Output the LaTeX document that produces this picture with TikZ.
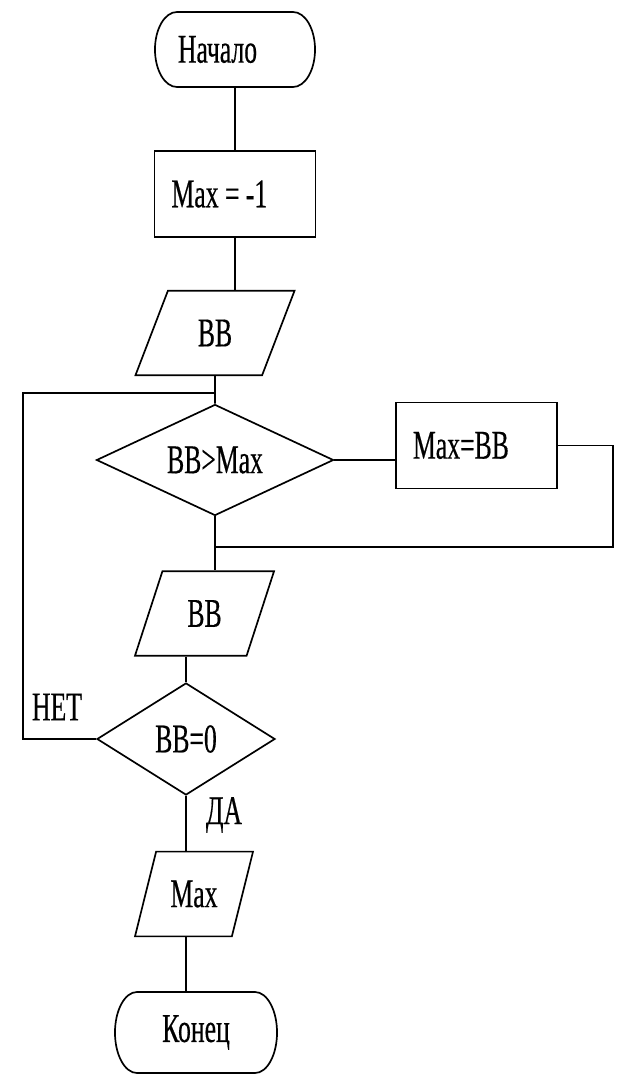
\documentclass[tikz,border=0pt]{standalone}
\usepackage{fontspec}
\setmainfont[FakeStretch=0.63,FakeBold=0.4]{Liberation Serif}
\usetikzlibrary{shapes.geometric, positioning}
\tikzset{terminal/.style={minimum width=4cm,minimum height=1.875cm,outer sep=0pt},
         process/.style={draw,minimum width=4.025cm,minimum height=2.15cm,inner xsep=0.425cm,text width=3.175cm,align=left},
         io/.style={draw,trapezium,trapezium stretches body,inner xsep=0pt,inner ysep=0.72cm},
         decision/.style={draw,diamond,inner sep=0pt}}
\newcommand{\termline}[2]{\draw([xshift=0.55cm]#1.north west)--([xshift=-0.55cm]#1.north east)
  arc[start angle=90,end angle=-90,x radius=0.55cm,y radius=#2]--([xshift=0.55cm]#1.south west)
  arc[start angle=270,end angle=90,x radius=0.55cm,y radius=#2]--cycle;}

\begin{document}
\begin{tikzpicture}[x=0.025cm,y=0.025cm,line width=1.2pt,font=\fontsize{29}{31}\selectfont]
        \useasboundingbox(0,0)rectangle(619,-1075);
        \node[terminal,text width=2.85cm,inner xsep=0.575cm,align=left](start)at(235,-49.5){Начало};
        \termline{start}{0.9375cm}
        \node[process](init)at(235,-194){Max\hspace{0.16cm}=\hspace{0.16cm}-1};
        \node[io,trapezium left angle=69,trapezium right angle=111,minimum width=3.975cm](in1)at(215,-333){BB};
        \node[decision,aspect=2.13,minimum width=5.925cm,minimum height=2.775cm](cmp)at(215,-460){BB>Max};
        \node[process](upd)at(476.5,-445.5){Max=BB};
        \node[io,trapezium left angle=72,trapezium right angle=108,minimum width=3.475cm](in2)at(204.5,-613.5){BB};
        \node[decision,aspect=1.59,minimum width=4.45cm,minimum height=2.8cm](test)at(186,-739){BB=0};
        \node[io,trapezium left angle=76,trapezium right angle=104,minimum width=2.95cm](out)at(194,-894){Max};
        \node[terminal,minimum width=4.05cm,minimum height=2.025cm](stop)at(196,-1032.5){Конец};
        \termline{stop}{1.0125cm}
        \node(no)at(57,-707){НЕТ};
        \node(yes)at(224,-815){ДА};
        \coordinate(loop)at(23,-393);
        \coordinate(back)at(613,-547);
        \draw(start)--(init);
        \draw(init)--(init|-in1.north);
        \draw(in1)--(cmp);
        \draw(cmp.east)--(cmp.east-|upd.west);
        \draw(upd.east)-|(back)--(back-|cmp.south);
        \draw(cmp.south)--(cmp.south|-in2.north);
        \draw(test.north|-in2.south)--(test.north);
        \draw(test.south)--(test.south|-out.north);
        \draw(test.south|-out.south)--(test.south|-stop.north);
        \draw(test.west)-|(loop)--(loop-|cmp.north);
    \end{tikzpicture}
\end{document}
